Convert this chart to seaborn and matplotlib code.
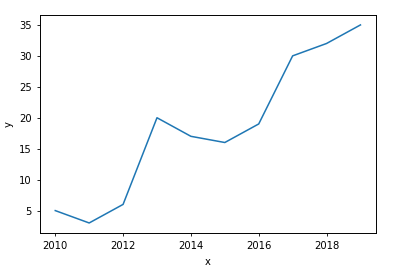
import matplotlib
matplotlib.use("Agg")
import matplotlib.pyplot as plt
import seaborn as sns
import pandas as pd

years = [2010, 2011, 2012, 2013, 2014, 2015, 2016, 2017, 2018, 2019]
values = [5, 3, 6, 20, 17, 16, 19, 30, 32, 35]

plt.rcParams['font.family'] = ['DejaVu Sans']
plt.rcParams['font.size'] = 7.2

df = pd.DataFrame({"x": years, "y": values})

fig = plt.figure(figsize=(4.04, 2.73), dpi=100)
ax = fig.add_axes([0.099, 0.147, 0.831, 0.798])
sns.lineplot(data=df, x="x", y="y", ax=ax, linewidth=1.1)
ax.tick_params(length=2.5, width=0.6, labelsize=7.2)
for s in ax.spines.values():
    s.set_linewidth(0.7)
ax.set_xlabel("x", fontsize=7.2)
ax.set_ylabel("y", fontsize=7.2)
fig.savefig("out.png", dpi=100)
